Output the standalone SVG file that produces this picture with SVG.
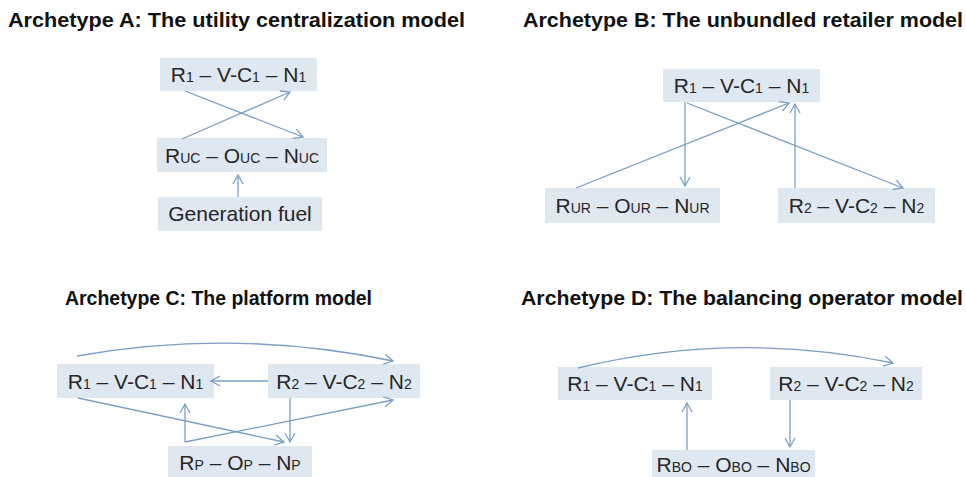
<svg xmlns="http://www.w3.org/2000/svg" width="966" height="477" viewBox="0 0 966 477">
<style>
.title{font-family:"Liberation Sans",Arial,sans-serif;font-weight:bold;font-size:20px;fill:#111}
.box{fill:#dfe8f1}
.lbl{font-family:"Liberation Sans",Arial,sans-serif;font-size:21px;fill:#262626;text-anchor:middle}
.s{font-size:14px}
.c{fill:none;stroke:#7c9ec4;stroke-width:1.3;marker-end:url(#ah)}
</style>
<defs>
<marker id="ah" markerWidth="12" markerHeight="12" refX="10" refY="6" orient="auto" markerUnits="userSpaceOnUse">
<path d="M1,1 L10,6 L1,11" fill="none" stroke="#7c9ec4" stroke-width="1.3"/>
</marker>
</defs>
<rect width="966" height="477" fill="#fff"/>
<text class="title" x="8" y="27" textLength="457" lengthAdjust="spacingAndGlyphs">Archetype A: The utility centralization model</text>
<text class="title" x="523" y="27" textLength="440" lengthAdjust="spacingAndGlyphs">Archetype B: The unbundled retailer model</text>
<text class="title" x="65" y="305" textLength="307" lengthAdjust="spacingAndGlyphs">Archetype C: The platform model</text>
<text class="title" x="521" y="305" textLength="442" lengthAdjust="spacingAndGlyphs">Archetype D: The balancing operator model</text>

<g id="a-r1"><rect class="box" x="160" y="58" width="157" height="33"/><text class="lbl" x="238.5" y="82">R<tspan class="s">1</tspan> – V-C<tspan class="s">1</tspan> – N<tspan class="s">1</tspan></text></g>
<g id="a-ruc"><rect class="box" x="157" y="138" width="170" height="34"/><text class="lbl" x="242" y="163">R<tspan class="s">UC</tspan> – O<tspan class="s">UC</tspan> – N<tspan class="s">UC</tspan></text></g>
<g id="a-gen"><rect class="box" x="158" y="197" width="164" height="34"/><text class="lbl" x="240" y="221">Generation fuel</text></g>

<g id="b-r1"><rect class="box" x="663" y="69" width="157" height="33"/><text class="lbl" x="741.5" y="93">R<tspan class="s">1</tspan> – V-C<tspan class="s">1</tspan> – N<tspan class="s">1</tspan></text></g>
<g id="b-rur"><rect class="box" x="545" y="188" width="175" height="35"/><text class="lbl" x="632.5" y="213">R<tspan class="s">UR</tspan> – O<tspan class="s">UR</tspan> – N<tspan class="s">UR</tspan></text></g>
<g id="b-r2"><rect class="box" x="778" y="188" width="157" height="35"/><text class="lbl" x="856.5" y="213">R<tspan class="s">2</tspan> – V-C<tspan class="s">2</tspan> – N<tspan class="s">2</tspan></text></g>

<g id="c-r1"><rect class="box" x="57" y="364" width="157" height="34"/><text class="lbl" x="135.5" y="389">R<tspan class="s">1</tspan> – V-C<tspan class="s">1</tspan> – N<tspan class="s">1</tspan></text></g>
<g id="c-r2"><rect class="box" x="268" y="364" width="152" height="34"/><text class="lbl" x="344" y="389">R<tspan class="s">2</tspan> – V-C<tspan class="s">2</tspan> – N<tspan class="s">2</tspan></text></g>
<g id="c-rp"><rect class="box" x="168" y="446" width="144" height="31"/><text class="lbl" x="240" y="470">R<tspan class="s">P</tspan> – O<tspan class="s">P</tspan> – N<tspan class="s">P</tspan></text></g>

<g id="d-r1"><rect class="box" x="558" y="367" width="154" height="33"/><text class="lbl" x="635" y="391">R<tspan class="s">1</tspan> – V-C<tspan class="s">1</tspan> – N<tspan class="s">1</tspan></text></g>
<g id="d-r2"><rect class="box" x="770" y="367" width="152" height="33"/><text class="lbl" x="846" y="391">R<tspan class="s">2</tspan> – V-C<tspan class="s">2</tspan> – N<tspan class="s">2</tspan></text></g>
<g id="d-rbo"><rect class="box" x="652" y="450" width="163" height="27"/><text class="lbl" x="733.5" y="472">R<tspan class="s">BO</tspan> – O<tspan class="s">BO</tspan> – N<tspan class="s">BO</tspan></text></g>

<g id="connectors">
<path class="c" d="M185,91 L303,137"/>
<path class="c" d="M182,139 L290,92"/>
<path class="c" d="M238,197 L238,175"/>

<path class="c" d="M685,102 L685,186"/>
<path class="c" d="M576,188 L789,103"/>
<path class="c" d="M795,188 L795,104"/>
<path class="c" d="M687,103 L903,188"/>

<path class="c" d="M77,356 Q235,328 393,361"/>
<path class="c" d="M268,381 L211,381"/>
<path class="c" d="M78,398 L284,442"/>
<path class="c" d="M185,442 L185,404"/>
<path class="c" d="M185,442 L393,400"/>
<path class="c" d="M290,398 L290,442"/>

<path class="c" d="M578,368 Q735,330 893,363"/>
<path class="c" d="M687,450 L687,403"/>
<path class="c" d="M790,400 L790,447"/>
</g>
</svg>
